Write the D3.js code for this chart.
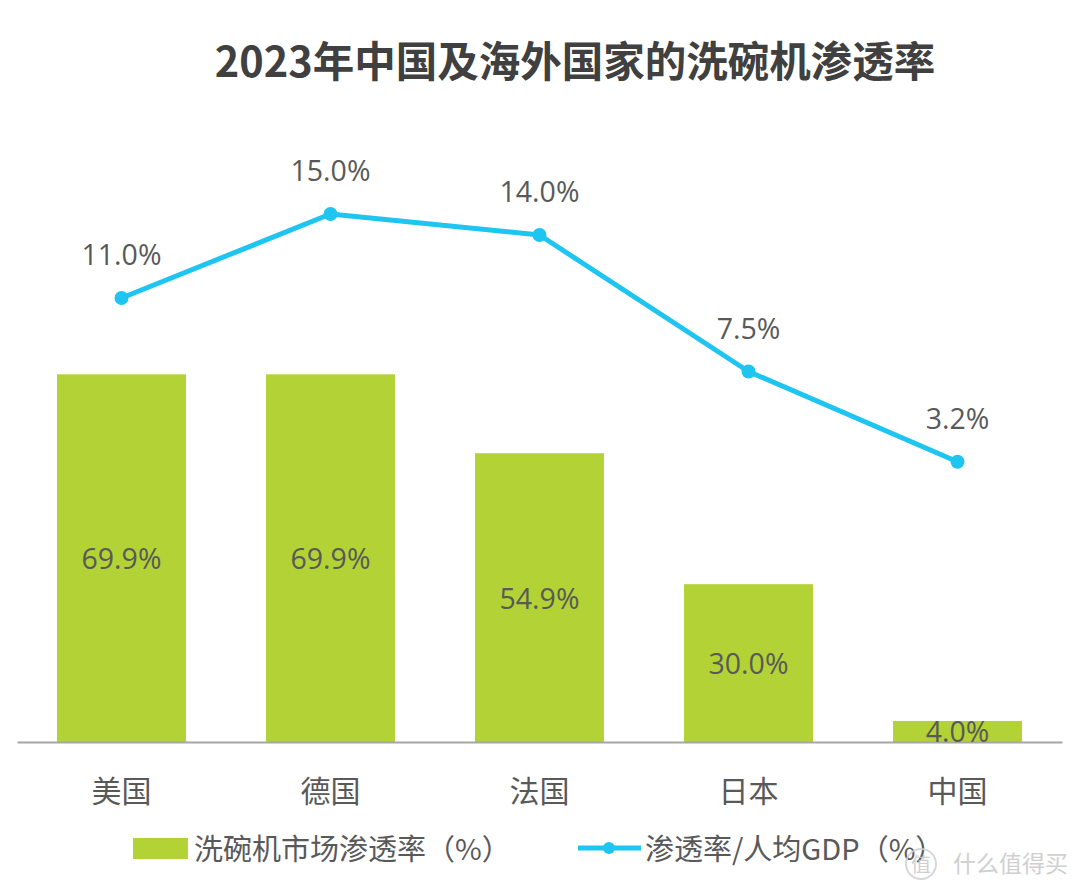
<!DOCTYPE html>
<html><head><meta charset="utf-8">
<script src="https://cdn.jsdelivr.net/npm/d3@7"></script>
<style>
body{margin:0;background:#fff;}
svg{display:block;font-family:"Open Sans","Noto Sans CJK SC",sans-serif;}
</style></head>
<body><svg id="c" width="1080" height="890"></svg>
<script>
const title = "2023年中国及海外国家的洗碗机渗透率";
const categories = ["美国","德国","法国","日本","中国"];
const marketRate = [69.9, 69.9, 54.9, 30.0, 4.0];
const rateGdp = [11.0, 15.0, 14.0, 7.5, 3.2];
const seriesNames = ["洗碗机市场渗透率（%）","渗透率/人均GDP（%）"];

const green = "#b2d235", cyan = "#1ec5f0", txt = "#595959";
const svg = d3.select("#c");

svg.append("text").attr("x",575).attr("y",77).attr("text-anchor","middle")
  .attr("font-family","'Noto Sans CJK SC',sans-serif").attr("font-weight","bold")
  .attr("font-size",41.5).attr("fill","#404040").text(title);

const x = d3.scaleBand().domain(categories).range([17,1062]).paddingInner(0.383).paddingOuter(0.1915);
const yBar = d3.scaleLinear().domain([0,100]).range([742,216]);
const yLine = d3.scaleLinear().domain([0,20]).range([529,109]);

svg.selectAll("rect.bar").data(categories).join("rect").attr("class","bar")
  .attr("x",d=>x(d)).attr("width",x.bandwidth())
  .attr("y",(d,i)=>yBar(marketRate[i])).attr("height",(d,i)=>yBar(0)-yBar(marketRate[i]))
  .attr("fill",green);

// axis
const axis = d3.axisBottom(x).tickSize(0).tickPadding(0);
const ag = svg.append("g").attr("transform","translate(0,742)").call(axis);
ag.select(".domain").attr("stroke","#a6a6a6").attr("stroke-width",2);
ag.selectAll(".tick text").attr("dy",0).attr("y",60).attr("font-size",30)
  .attr("font-family","'Noto Sans CJK SC',sans-serif").attr("fill",txt);

svg.selectAll("text.blab").data(categories).join("text").attr("class","blab")
  .attr("x",d=>x(d)+x.bandwidth()/2)
  .attr("y",(d,i)=>(yBar(marketRate[i])+yBar(0))/2+11)
  .attr("text-anchor","middle").attr("font-size",28.5).attr("fill",txt)
  .text((d,i)=>marketRate[i].toFixed(1)+"%");

const line = d3.line().x((d,i)=>x(categories[i])+x.bandwidth()/2).y(d=>yLine(d));
svg.append("path").datum(rateGdp).attr("d",line).attr("fill","none")
  .attr("stroke",cyan).attr("stroke-width",5).attr("stroke-linejoin","round");
svg.selectAll("circle.pt").data(rateGdp).join("circle").attr("class","pt")
  .attr("cx",(d,i)=>x(categories[i])+x.bandwidth()/2).attr("cy",d=>yLine(d))
  .attr("r",7).attr("fill",cyan);
svg.selectAll("text.llab").data(rateGdp).join("text").attr("class","llab")
  .attr("x",(d,i)=>x(categories[i])+x.bandwidth()/2).attr("y",d=>yLine(d)-33)
  .attr("text-anchor","middle").attr("font-size",28.5).attr("fill",txt)
  .text(d=>d.toFixed(1)+"%");

// legend
const lg = svg.append("g").attr("font-family","'Noto Sans CJK SC',sans-serif").attr("font-size",29).attr("fill",txt);
lg.append("rect").attr("x",133).attr("y",838).attr("width",55).attr("height",21).attr("fill",green);
lg.append("text").attr("x",194).attr("y",860).text(seriesNames[0]);
lg.append("line").attr("x1",578).attr("x2",641).attr("y1",848).attr("y2",848).attr("stroke",cyan).attr("stroke-width",5);
lg.append("circle").attr("cx",609).attr("cy",848).attr("r",6).attr("fill",cyan);
lg.append("text").attr("x",645).attr("y",860).text(seriesNames[1]);

// watermark
const wm = svg.append("g").attr("opacity",0.85);
wm.append("circle").attr("cx",921).attr("cy",864).attr("r",15).attr("fill","none").attr("stroke","#d0d0d0").attr("stroke-width",2);
wm.append("text").attr("x",921).attr("y",872).attr("text-anchor","middle").attr("font-size",20)
  .attr("font-family","'Noto Sans CJK SC',sans-serif").attr("fill","#c8c8c8").text("值");
wm.append("text").attr("x",953).attr("y",872).attr("font-size",23)
  .attr("font-family","'Noto Sans CJK SC',sans-serif").attr("fill","#c8c8c8").text("什么值得买");
</script></body></html>
